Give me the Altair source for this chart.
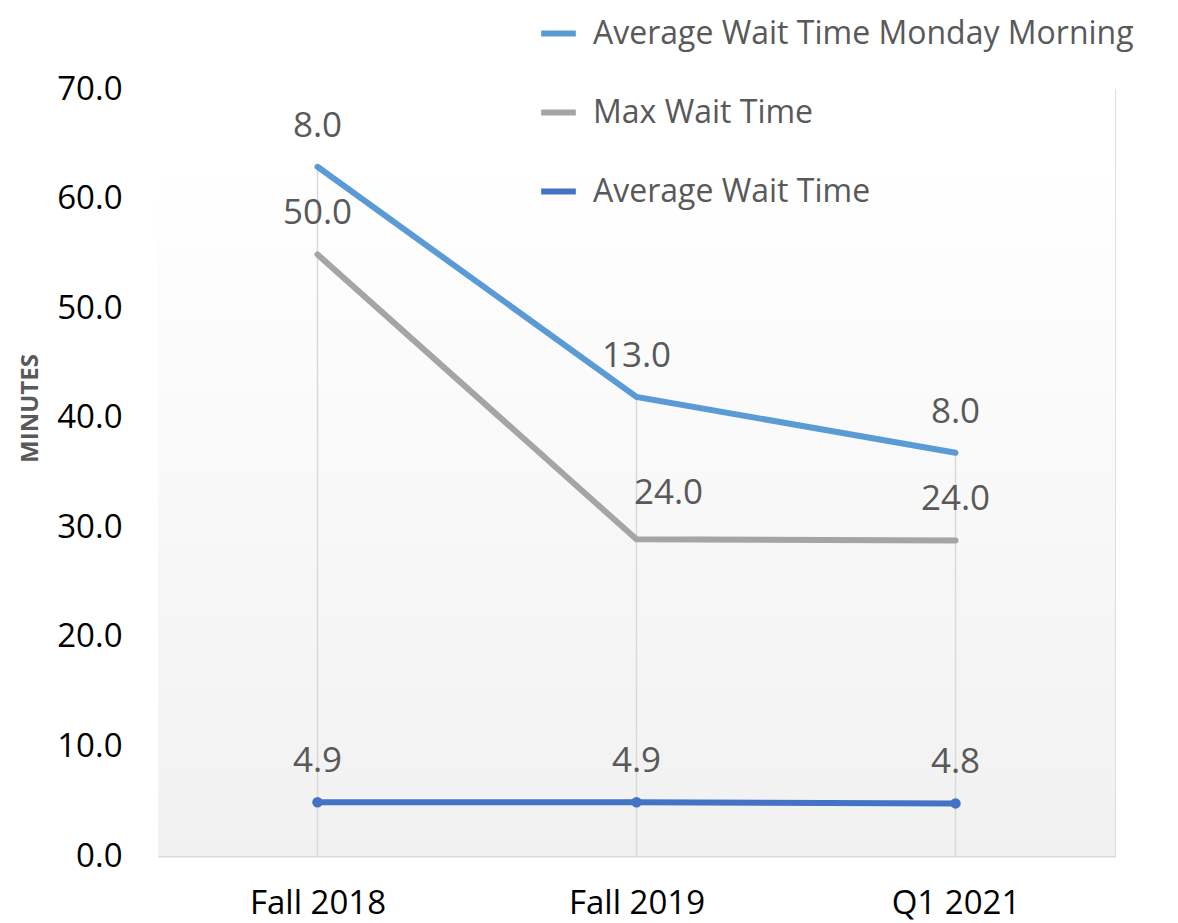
import altair as alt
import pandas as pd

categories = ["Fall 2018", "Fall 2019", "Q1 2021"]
avg_wait = [4.9, 4.9, 4.8]
max_wait = [50.0, 24.0, 24.0]
monday_wait = [8.0, 13.0, 8.0]

series_names = ["Average Wait Time", "Max Wait Time", "Average Wait Time Monday Morning"]
series_values = [avg_wait, max_wait, monday_wait]
legend_order = ["Average Wait Time Monday Morning", "Max Wait Time", "Average Wait Time"]
colors = ["#5b9bd5", "#a5a5a5", "#4472c4"]
widths = [6, 6, 3.5]

rows = []
for order, (name, vals) in enumerate(zip(series_names, series_values)):
    for cat, v in zip(categories, vals):
        rows.append({"series": name, "category": cat, "value": v, "order": order})
df = pd.DataFrame(rows)

W, H = 957, 767
FONT = "Open Sans"

base = alt.Chart(df).transform_window(
    cum="sum(value)", groupby=["category"], sort=[alt.SortField("order")], frame=[None, 0]
)

xaxis = alt.Axis(title=None, labelAngle=0, labelAlign="center", labelBaseline="middle",
                 labelFontSize=33, labelColor="#000000", labelFont=FONT, labelPadding=47,
                 ticks=False, grid=False, domainColor="#d9d9d9", domainWidth=2)
xscale = alt.Scale(type="point", padding=0.5)
xenc = alt.X("category:N", sort=categories, scale=xscale, axis=xaxis)
yscale = alt.Scale(domain=[0, 70], nice=False)
yaxis = alt.Axis(title="MINUTES", values=list(range(0, 71, 10)), format=".1f",
                 labelFontSize=33, labelColor="#000000", labelFont=FONT,
                 labelPadding=36, ticks=False, grid=False, domain=False,
                 titleFontSize=24, titleFont=FONT, titleFontWeight="bold",
                 titleColor="#595959", titleAngle=270, titleX=-128, titleY=319,
                 titleAlign="center", titleBaseline="middle")
yenc = alt.Y("cum:Q", scale=yscale, axis=yaxis)

bg = alt.Chart(pd.DataFrame({"k": [0]})).mark_rect(
    fill=alt.Gradient(gradient="linear",
                      stops=[alt.GradientStop(color="#ffffff", offset=0),
                             alt.GradientStop(color="#ffffff", offset=0.1),
                             alt.GradientStop(color="#f1f1f1", offset=1)],
                      x1=0, x2=0, y1=0, y2=1)
).encode(x=alt.value(0), x2=alt.value(W), y=alt.value(0), y2=alt.value(H))

drops = base.transform_aggregate(top="max(cum)", groupby=["category"]).mark_rule(
    color="#d9d9d9", strokeWidth=1.5
).encode(x=xenc, y=alt.Y("top:Q", scale=yscale, axis=yaxis), y2=alt.Y2Datum(0))

lines = base.mark_line(strokeCap="round").encode(
    x=xenc, y=yenc,
    color=alt.Color("series:N", scale=alt.Scale(domain=legend_order, range=colors),
                    legend=alt.Legend(title=None, orient="none", legendX=380, legendY=-76,
                                      labelFontSize=32, labelFont=FONT, labelColor="#595959",
                                      labelLimit=0,
                                      symbolType="stroke", symbolSize=1200, symbolStrokeWidth=6,
                                      rowPadding=42, labelOffset=14)),
    size=alt.Size("series:N", scale=alt.Scale(domain=series_names, range=widths), legend=None),
    detail="series:N",
)

points = base.transform_filter(alt.datum.series == "Average Wait Time").mark_point(
    filled=True, size=110, opacity=1, color="#4472c4"
).encode(x=xenc, y=yenc)

is_shifted = (alt.datum.series == "Max Wait Time") & (alt.datum.category == "Fall 2019")

labels = base.transform_filter(~is_shifted).mark_text(
    fontSize=35, font=FONT, color="#595959", dy=-41, baseline="middle"
).encode(x=xenc, y=yenc, text=alt.Text("value:Q", format=".1f"))

labels_shift = base.transform_filter(is_shifted).mark_text(
    fontSize=35, font=FONT, color="#595959", dy=-46, dx=32, baseline="middle"
).encode(x=xenc, y=yenc, text=alt.Text("value:Q", format=".1f"))

chart = alt.layer(bg, drops, lines, points, labels, labels_shift).properties(
    width=W, height=H,
    autosize=alt.AutoSizeParams(type="none"),
    padding={"left": 150, "top": 81, "right": 55, "bottom": 75},
).configure_view(stroke=None).configure(background="#ffffff")

chart.save("out.html", embed_options={"renderer": "svg", "actions": False})
